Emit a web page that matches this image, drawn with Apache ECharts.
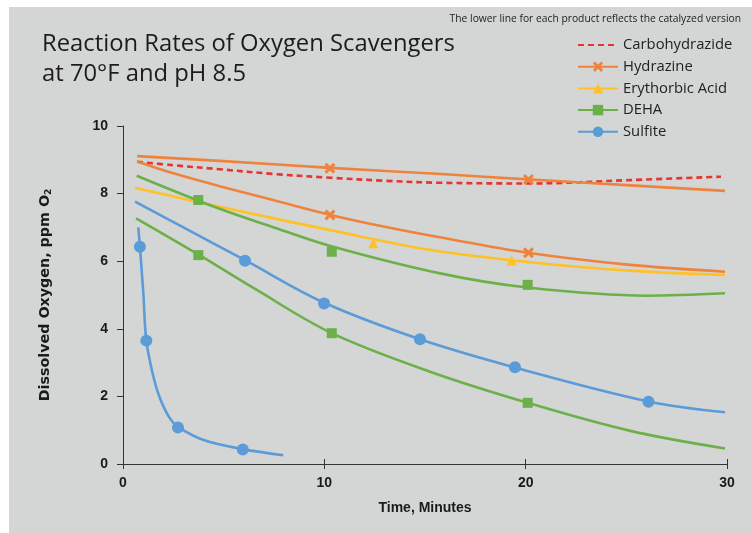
<!DOCTYPE html>
<html>
<head>
<meta charset="utf-8">
<script src="https://cdn.jsdelivr.net/npm/echarts@6/dist/echarts.min.js"></script>
<style>
html,body{margin:0;padding:0;background:#fff;width:752px;height:533px;overflow:hidden;}
#bg{position:absolute;left:9px;top:7px;right:0;bottom:0;background:#d3d6d5;}
#chart{position:absolute;left:0;top:0;width:752px;height:533px;}
</style>
</head>
<body>
<div id="bg"></div>
<div id="chart"></div>
<script>
// ---- data (time in minutes, dissolved O2 in ppm) ----
const xTicks = [0, 10, 20, 30];
const yTicks = [0, 2, 4, 6, 8, 10];
const legendNames = ['Carbohydrazide', 'Hydrazine', 'Erythorbic Acid', 'DEHA', 'Sulfite'];

// fitted curves
const carboCurve = [[0.7,8.94],[2.5,8.84],[4.8,8.72],[7.5,8.58],[10.3,8.47],[13,8.38],[15.8,8.32],[20.2,8.3],[25.2,8.4],[29.7,8.5]];
const hydrazineCurve = [[0.7,9.11],[5,8.96],[10.3,8.76],[15.8,8.58],[20.1,8.42],[25,8.25],[29.9,8.08]];
const hydrazineCatCurve = [[0.7,8.95],[2.5,8.6],[4.8,8.22],[7.5,7.8],[10.3,7.37],[13,7.02],[15.8,6.7],[20.1,6.25],[25.2,5.89],[29.9,5.69]];
const erythorbicCurve = [[0.6,8.17],[4.8,7.61],[10.3,6.92],[15.3,6.33],[20.2,5.97],[25.2,5.72],[29.9,5.59]];
const dehaCurve = [[0.68,8.53],[4.8,7.55],[7.5,7.0],[10.3,6.45],[15.75,5.64],[20.1,5.22],[26,4.98],[29.9,5.05]];
const dehaCatCurve = [[0.65,7.27],[3.74,6.2],[6.5,5.2],[10.37,3.87],[15.25,2.73],[20.1,1.81],[25.2,0.98],[29.9,0.46]];
const sulfiteCurve = [[0.6,7.76],[3,7.0],[6.06,6.03],[10,4.77],[14.75,3.69],[19.5,2.85],[26.1,1.85],[29.9,1.53]];
const sulfiteCatCurve = [[0.76,7.0],[0.84,6.43],[1.01,5.05],[1.16,3.65],[1.51,2.58],[1.84,1.94],[2.33,1.35],[2.75,1.09],[4.0,0.71],[5.95,0.44],[7.96,0.26]];

// measured points
const hydrazineMarks = [[10.28,8.75],[20.14,8.42]];
const hydrazineCatMarks = [[10.28,7.37],[20.14,6.25]];
const erythorbicMarks = [[12.43,6.53],[19.3,6.02]];
const dehaMarks = [[3.74,7.81],[10.37,6.28],[20.1,5.3]];
const dehaCatMarks = [[3.74,6.18],[10.37,3.87],[20.1,1.81]];
const sulfiteMarks = [[6.06,6.01],[9.99,4.75],[14.75,3.69],[19.47,2.86],[26.1,1.84]];
const sulfiteCatMarks = [[0.84,6.43],[1.16,3.65],[2.73,1.08],[5.95,0.43]];

// ---- styles ----
const C = {red:'#E8332F', orange:'#EF833D', yellow:'#FFC125', green:'#6CB04A', blue:'#5A9BD8'};
const X_SYM = 'path://M2,0 L5,3 L8,0 L10,2 L7,5 L10,8 L8,10 L5,7 L2,10 L0,8 L3,5 L0,2 Z';

function curve(name, data, color, symbol, dashed) {
  return {
    type: 'line', name: name, data: data, smooth: 0.35,
    symbol: symbol, showSymbol: false, silent: true, z: 2,
    lineStyle: {color: color, width: 2.6, type: dashed ? [6, 4] : 'solid'},
    itemStyle: {color: color}
  };
}
function marks(name, data, color, symbol, size) {
  return {
    type: 'scatter', name: name, data: data, symbol: symbol, symbolSize: size,
    silent: true, z: 3, itemStyle: {color: color, opacity: 1}
  };
}

const chart = echarts.init(document.getElementById('chart'), null, {renderer: 'canvas'});
chart.setOption({
  animation: false,
  backgroundColor: 'transparent',
  title: [
    {text: 'Reaction Rates of Oxygen Scavengers\nat 70°F and pH 8.5', left: 37, top: 24,
     textStyle: {fontFamily: 'Open Sans', fontSize: 23.8, fontWeight: 'normal', color: '#1c1c1c', lineHeight: 30}},
    {text: 'The lower line for each product reflects the catalyzed version', right: 6, top: 8,
     textStyle: {fontFamily: 'Open Sans', fontSize: 10.3, fontWeight: 'normal', color: '#222', lineHeight: 12}}
  ],
  legend: {
    orient: 'vertical', left: 572, top: 32, itemWidth: 40, itemHeight: 13, itemGap: 5.7,
    textStyle: {fontFamily: 'Open Sans', fontSize: 14.8, color: '#222', lineHeight: 16},
    data: [
      {name: legendNames[0], itemStyle: {opacity: 0, color: 'transparent', borderWidth: 0}},
      legendNames[1], legendNames[2], legendNames[3], legendNames[4]
    ]
  },
  grid: {left: 123, right: 25, top: 126, bottom: 69, containLabel: false},
  xAxis: [{
    type: 'value', min: xTicks[0], max: xTicks[xTicks.length - 1], interval: 10,
    name: 'Time, Minutes', nameLocation: 'middle', nameGap: 37,
    nameTextStyle: {fontFamily: 'Liberation Sans', fontWeight: 'bold', fontSize: 14, color: '#1a1a1a'},
    axisLine: {show: true, lineStyle: {color: '#333', width: 1}},
    axisTick: {show: true, length: 5, lineStyle: {color: '#333'}},
    axisLabel: {fontFamily: 'Liberation Sans', fontWeight: 'bold', fontSize: 14, color: '#1a1a1a', margin: 12},
    splitLine: {show: false}
  }, {
    type: 'value', position: 'bottom', min: xTicks[0], max: xTicks[xTicks.length - 1], interval: 10,
    axisLine: {show: false}, axisLabel: {show: false}, splitLine: {show: false},
    axisTick: {show: true, inside: true, length: 5, lineStyle: {color: '#333'}}
  }],
  yAxis: {
    type: 'value', min: yTicks[0], max: yTicks[yTicks.length - 1], interval: 2,
    name: 'Dissolved Oxygen, ppm O{sub|2}', nameLocation: 'middle', nameGap: 70, nameRotate: 90,
    nameTextStyle: {fontFamily: 'DejaVu Sans', fontWeight: 'bold', fontSize: 14.3, color: '#1a1a1a',
      rich: {sub: {fontFamily: 'DejaVu Sans', fontWeight: 'bold', fontSize: 9, color: '#1a1a1a', verticalAlign: 'bottom', padding: [6, 0, 0, 0]}}},
    axisLine: {show: true, lineStyle: {color: '#333', width: 1}},
    axisTick: {show: true, length: 6, lineStyle: {color: '#333'}},
    axisLabel: {fontFamily: 'Liberation Sans', fontWeight: 'bold', fontSize: 14, color: '#1a1a1a', margin: 15},
    splitLine: {show: false}
  },
  series: [
    curve('Carbohydrazide', carboCurve, C.red, 'none', true),
    curve('Hydrazine', hydrazineCurve, C.orange, X_SYM),
    curve('Erythorbic Acid', erythorbicCurve, C.yellow, 'triangle'),
    curve('DEHA', dehaCurve, C.green, 'rect'),
    curve('Sulfite', sulfiteCurve, C.blue, 'circle'),
    curve('Hydrazine catalyzed', hydrazineCatCurve, C.orange, X_SYM),
    curve('DEHA catalyzed', dehaCatCurve, C.green, 'rect'),
    curve('Sulfite catalyzed', sulfiteCatCurve, C.blue, 'circle'),
    marks('Hydrazine pts', hydrazineMarks, C.orange, X_SYM, 11),
    marks('Hydrazine cat pts', hydrazineCatMarks, C.orange, X_SYM, 11),
    marks('Erythorbic pts', erythorbicMarks, C.yellow, 'triangle', 10),
    marks('DEHA pts', dehaMarks, C.green, 'rect', 10),
    marks('DEHA cat pts', dehaCatMarks, C.green, 'rect', 10),
    marks('Sulfite pts', sulfiteMarks, C.blue, 'circle', 12),
    marks('Sulfite cat pts', sulfiteCatMarks, C.blue, 'circle', 12)
  ]
});
</script>
</body>
</html>
